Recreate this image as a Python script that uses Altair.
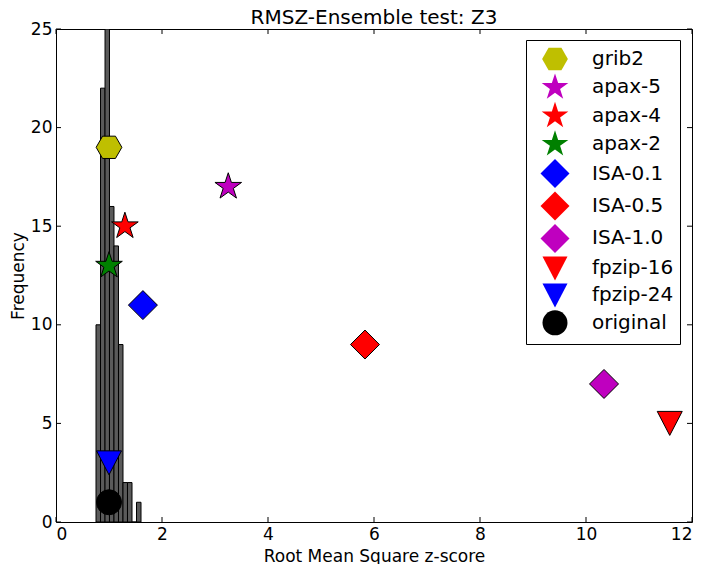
import altair as alt
import pandas as pd

# Histogram (ensemble RMSZ scores)
bin_edges = [0.755, 0.840, 0.925, 1.009, 1.094, 1.179, 1.264, 1.349, 1.434, 1.519, 1.604]
bin_counts = [10, 22, 25, 16, 14, 9, 2, 2, 0, 1]

# Compressor markers
names = ["grib2", "apax-5", "apax-4", "apax-2", "ISA-0.1", "ISA-0.5", "ISA-1.0",
         "fpzip-16", "fpzip-24", "original"]
rmsz = [1.0, 3.25, 1.30, 1.0, 1.64, 5.83, 10.34, 11.58, 1.0, 1.0]
freq = [19, 17, 15, 13, 11, 9, 7, 5, 3, 1]
colors = ["#bfbf00", "#bf00bf", "#ff0000", "#008000", "#0000ff", "#ff0000",
          "#bf00bf", "#ff0000", "#0000ff", "#000000"]

x_ticks = [0, 2, 4, 6, 8, 10, 12]
y_ticks = [0, 5, 10, 15, 20, 25]

HEX = "M-1.03,0L-0.515,-0.892L0.515,-0.892L1.03,0L0.515,0.892L-0.515,0.892Z"
STAR = ("M0,-1.12L0.2515,-0.346L1.065,-0.346L0.407,0.132L0.658,0.906L0,0.428"
        "L-0.658,0.906L-0.407,0.132L-1.065,-0.346L-0.2515,-0.346Z")
DIAMOND = "M0,-1.16L1.16,0L0,1.16L-1.16,0Z"
TRI_DOWN = "M0,0.96L-1,-0.96L1,-0.96Z"
shapes = [HEX, STAR, STAR, STAR, DIAMOND, DIAMOND, DIAMOND, TRI_DOWN, TRI_DOWN, "circle"]

W, H = 636, 493
FONT = "DejaVu Sans"

hist_df = pd.DataFrame({"lo": bin_edges[:-1], "hi": bin_edges[1:], "count": bin_counts})
pts_df = pd.DataFrame({"name": names, "rmsz": rmsz, "freq": freq})
xt_df = pd.DataFrame({"t": x_ticks})
yt_df = pd.DataFrame({"t": y_ticks})

xscale = alt.Scale(domain=[0, 12], nice=False, zero=False)
yscale = alt.Scale(domain=[0, 25], nice=False)

axis_kw = dict(ticks=False, domain=False, grid=False, labelPadding=4,
               labelFont=FONT, labelFontSize=17, titleFont=FONT, titleFontSize=17,
               titleFontWeight="normal", labelColor="black", titleColor="black")
x_axis = alt.Axis(values=x_ticks, title="Root Mean Square z-score", titlePadding=6,
                  format="d", **axis_kw)
y_axis = alt.Axis(values=y_ticks, title="Frequency", titlePadding=3, **axis_kw)

bars = alt.Chart(hist_df).mark_rect(fill="#5a5a5a", stroke="black", strokeWidth=1, clip=True).encode(
    x=alt.X("lo:Q", scale=xscale, axis=x_axis),
    x2="hi:Q",
    y=alt.Y("count:Q", scale=yscale, axis=y_axis),
    y2=alt.datum(0),
)

leg = alt.Legend(title=None, orient="none", legendX=470, legendY=11, symbolSize=625,
                 labelFontSize=20, labelFont=FONT, labelColor="black",
                 strokeColor="black", fillColor="white", padding=6, rowPadding=-1.6,
                 symbolOffset=10, labelOffset=24, symbolStrokeColor="black",
                 symbolStrokeWidth=1, symbolOpacity=1, cornerRadius=0)

points = alt.Chart(pts_df).mark_point(filled=True, size=625, opacity=1).encode(
    x=alt.X("rmsz:Q", scale=xscale, axis=x_axis),
    y=alt.Y("freq:Q", scale=yscale, axis=y_axis),
    fill=alt.Fill("name:N", scale=alt.Scale(domain=names, range=colors), legend=leg),
    shape=alt.Shape("name:N", scale=alt.Scale(domain=names, range=shapes), legend=leg),
    stroke=alt.value("black"),
    strokeWidth=alt.value(1),
)

tick_kw = dict(color="black", strokeWidth=1)
bottom_t = alt.Chart(xt_df).mark_rule(**tick_kw).encode(
    x=alt.X("t:Q", scale=xscale, axis=x_axis), y=alt.value(H), y2=alt.value(H - 5))
top_t = alt.Chart(xt_df).mark_rule(**tick_kw).encode(
    x=alt.X("t:Q", scale=xscale, axis=x_axis), y=alt.value(0), y2=alt.value(5))
left_t = alt.Chart(yt_df).mark_rule(**tick_kw).encode(
    y=alt.Y("t:Q", scale=yscale, axis=y_axis), x=alt.value(0), x2=alt.value(5))
right_t = alt.Chart(yt_df).mark_rule(**tick_kw).encode(
    y=alt.Y("t:Q", scale=yscale, axis=y_axis), x=alt.value(W - 5), x2=alt.value(W))

chart = alt.layer(bars, bottom_t, top_t, left_t, right_t, points).properties(
    width=W, height=H,
    background="white",
    autosize=alt.AutoSizeParams(type="none"),
    padding={"left": 48, "top": 21, "right": 6, "bottom": 42},
    title=alt.TitleParams("RMSZ-Ensemble test: Z3", fontSize=20, font=FONT,
                          fontWeight="normal", anchor="middle", frame="group",
                          offset=4, dy=12, color="black"),
).configure_view(stroke="black", strokeWidth=1)

chart.save("out.html", embed_options={"renderer": "svg", "actions": False})
